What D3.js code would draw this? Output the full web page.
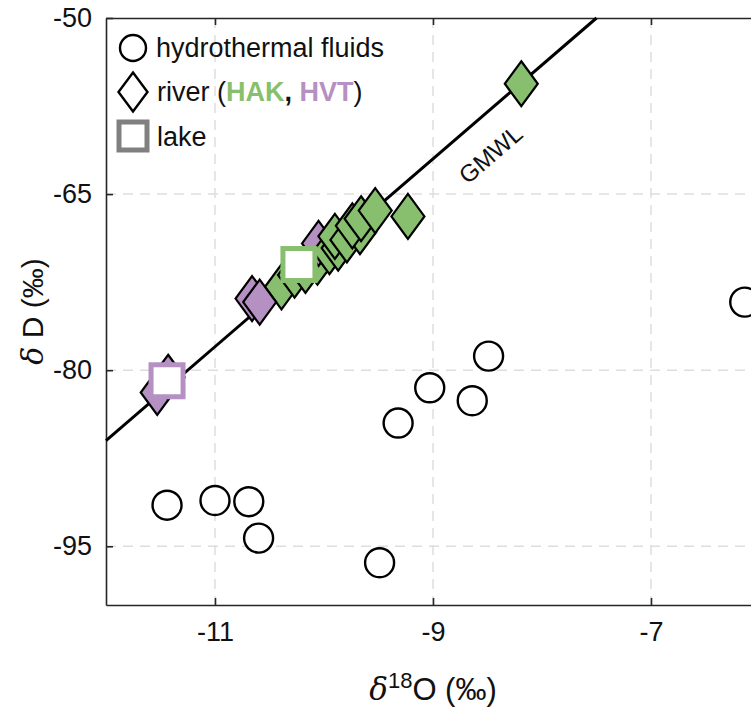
<!DOCTYPE html>
<html>
<head>
<meta charset="utf-8">
<script src="https://cdn.jsdelivr.net/npm/d3@7/dist/d3.min.js"></script>
<style>
  body { margin: 0; background: #fff; }
  svg { display: block; font-family: "Liberation Sans", Arial, sans-serif; }
</style>
</head>
<body>
<div id="isoGraph"></div>
<script>
// hydrothermal fluids
var hydroX = [-11.44, -11.00, -10.69, -10.60, -8.49, -9.03, -8.64, -9.32, -9.49, -6.14];
var hydroY = [-91.5, -91.1, -91.2, -94.3, -78.8, -81.5, -82.6, -84.5, -96.4, -74.2];

// river samples, drawn in this order
var riverX = [-10.39, -10.27, -10.17, -10.06, -10.66, -10.59, -10.05, -9.95, -9.87, -9.90, -9.79, -9.67, -9.74, -9.66, -9.53, -9.23, -8.19, -11.53, -11.43];
var riverY = [-72.9, -71.9, -71.5, -70.8, -73.9, -74.2, -69.2, -69.9, -69.6, -68.6, -68.9, -68.2, -67.7, -67.1, -66.4, -66.9, -55.6, -81.9, -80.6];
var riverSite = ['HAK', 'HAK', 'HAK', 'HAK', 'HVT', 'HVT', 'HVT', 'HAK', 'HAK', 'HAK', 'HAK', 'HAK', 'HAK', 'HAK', 'HAK', 'HAK', 'HAK', 'HVT', 'HVT'];

// lakes
var lakeX = [-10.23, -11.44];
var lakeY = [-71.0, -80.9];
var lakeSite = ['HAK', 'HVT'];

var xTicks = [-11, -9, -7];
var yTicks = [-95, -80, -65, -50];
var gmwlX = [-12, -7.5];   // GMWL: dD = 8 d18O + 10

var siteColor = { HAK: '#87bf6e', HVT: '#b590c2' };

function graphRegion() {
    var g = {};
    g.width = 751;
    g.height = 709;
    g.left = 106;
    g.right = 760;
    g.top = 18;
    g.bottom = 605;
    return g;
}

function setGraphScale() {
    var g = graphRegion();
    var scale = {};
    scale.x = d3.scaleLinear().domain([-12, -6]).range([g.left, g.right]);
    scale.y = d3.scaleLinear().domain([-100, -50]).range([g.bottom, g.top]);
    return scale;
}

function drawGrid(svg, scale) {
    var g = graphRegion();
    var grid = svg.append('g')
        .attr('stroke', '#dedede')
        .attr('stroke-width', 1.5)
        .attr('stroke-dasharray', '10,7');
    grid.selectAll('.gx').data(xTicks).enter().append('line')
        .attr('x1', function(d) { return scale.x(d); })
        .attr('x2', function(d) { return scale.x(d); })
        .attr('y1', g.top).attr('y2', g.bottom);
    grid.selectAll('.gy').data(yTicks.filter(function(d) { return d > -100 && d < -50; })).enter().append('line')
        .attr('y1', function(d) { return scale.y(d); })
        .attr('y2', function(d) { return scale.y(d); })
        .attr('x1', g.left).attr('x2', g.right);
}

function drawAxis(svg, scale) {
    var g = graphRegion();
    var fmt = function(d) { return String(d); };
    var xAxis = d3.axisBottom(scale.x).tickValues(xTicks).tickFormat(fmt)
        .tickSizeInner(-7).tickSizeOuter(0).tickPadding(17);
    var xTop = d3.axisTop(scale.x).tickValues(xTicks).tickFormat('')
        .tickSizeInner(-7).tickSizeOuter(0);
    var yAxis = d3.axisLeft(scale.y).tickValues(yTicks).tickFormat(fmt)
        .tickSizeInner(-7).tickSizeOuter(0).tickPadding(14);

    var ax = [
        svg.append('g').attr('transform', 'translate(0,' + g.bottom + ')').call(xAxis),
        svg.append('g').attr('transform', 'translate(0,' + g.top + ')').call(xTop),
        svg.append('g').attr('transform', 'translate(' + g.left + ',0)').call(yAxis)
    ];
    ax.forEach(function(a) {
        a.select('.domain').attr('stroke', '#262626').attr('stroke-width', 1.6);
        a.selectAll('.tick line').attr('stroke', '#262626').attr('stroke-width', 1.6);
        a.selectAll('.tick text').attr('fill', '#111').style('font-size', '27px')
            .style('font-family', '"Liberation Sans", Arial, sans-serif');
    });

    svg.append('text')
        .attr('x', 433).attr('y', 700)
        .attr('text-anchor', 'middle')
        .style('font-size', '31px').attr('fill', '#111')
        .html('<tspan font-family="DejaVu Serif" font-style="italic">δ</tspan><tspan dy="-12" font-size="22">18</tspan><tspan dy="12">O (‰)</tspan>');

    svg.append('text')
        .attr('transform', 'translate(43,' + ((g.top + g.bottom) / 2) + ') rotate(-90)')
        .attr('text-anchor', 'middle')
        .style('font-size', '30px').attr('fill', '#111')
        .html('<tspan font-family="DejaVu Serif" font-style="italic">δ</tspan> D (‰)');
}

function drawLine(svg, scale) {
    var line = d3.line()
        .x(function(d) { return scale.x(d); })
        .y(function(d) { return scale.y(8 * d + 10); });
    svg.append('path')
        .datum(gmwlX)
        .attr('d', line)
        .attr('stroke', '#000')
        .attr('stroke-width', 3)
        .attr('fill', 'none');

    var lx = scale.x(-8.55), ly = scale.y(8 * -8.55 + 10);
    var ang = Math.atan2(scale.y(8 * -8 + 10) - scale.y(8 * -9 + 10), scale.x(-8) - scale.x(-9)) * 180 / Math.PI;
    svg.append('text')
        .attr('transform', 'translate(' + (lx + 14) + ',' + (ly + 44) + ') rotate(' + ang + ')')
        .attr('text-anchor', 'middle')
        .style('font-size', '24px').attr('fill', '#111')
        .text('GMWL');
}

function diamondPath(hw, hh) {
    return 'M0,' + (-hh) + 'L' + hw + ',0L0,' + hh + 'L' + (-hw) + ',0Z';
}

function drawPoints(svg, scale) {
    svg.append('g').selectAll('ellipse')
        .data(d3.range(hydroX.length)).enter().append('ellipse')
        .attr('cx', function(i) { return scale.x(hydroX[i]); })
        .attr('cy', function(i) { return scale.y(hydroY[i]); })
        .attr('rx', 14.5).attr('ry', 14.5)
        .attr('fill', '#fff').attr('stroke', '#000').attr('stroke-width', 2.4);

    svg.append('g').selectAll('path')
        .data(d3.range(riverX.length)).enter().append('path')
        .attr('d', diamondPath(16.5, 22.5))
        .attr('transform', function(i) { return 'translate(' + scale.x(riverX[i]) + ',' + scale.y(riverY[i]) + ')'; })
        .attr('fill', function(i) { return siteColor[riverSite[i]]; })
        .attr('stroke', '#000').attr('stroke-width', 2.2).attr('stroke-linejoin', 'miter');

    svg.append('g').selectAll('rect')
        .data(d3.range(lakeX.length)).enter().append('rect')
        .attr('x', function(i) { return scale.x(lakeX[i]) - 16; })
        .attr('y', function(i) { return scale.y(lakeY[i]) - 16; })
        .attr('width', 32).attr('height', 32)
        .attr('fill', '#fff')
        .attr('stroke', function(i) { return siteColor[lakeSite[i]]; })
        .attr('stroke-width', 5);
}

function drawLegend(svg) {
    var lg = svg.append('g');
    lg.append('circle').attr('cx', 133).attr('cy', 48).attr('r', 13)
        .attr('fill', '#fff').attr('stroke', '#000').attr('stroke-width', 2.4);
    lg.append('path').attr('d', diamondPath(14.5, 19.5))
        .attr('transform', 'translate(133,92)')
        .attr('fill', '#fff').attr('stroke', '#000').attr('stroke-width', 2.4);
    lg.append('rect').attr('x', 119).attr('y', 122).attr('width', 28).attr('height', 28)
        .attr('fill', '#fff').attr('stroke', '#808080').attr('stroke-width', 5);

    var t = lg.append('g').style('font-size', '27px').attr('fill', '#111');
    t.append('text').attr('x', 156).attr('y', 57).text('hydrothermal fluids');
    t.append('text').attr('x', 157).attr('y', 101)
        .html('river (<tspan font-weight="bold" fill="' + siteColor.HAK + '">HAK</tspan><tspan font-weight="bold">, </tspan><tspan font-weight="bold" fill="' + siteColor.HVT + '">HVT</tspan>)');
    t.append('text').attr('x', 157).attr('y', 146).text('lake');
}

function drawGraph() {
    var g = graphRegion();
    var svg = d3.select('#isoGraph').append('svg')
        .attr('width', g.width)
        .attr('height', g.height);
    var scale = setGraphScale();
    drawGrid(svg, scale);
    drawAxis(svg, scale);
    drawLine(svg, scale);
    drawPoints(svg, scale);
    drawLegend(svg);
}

drawGraph();
</script>
</body>
</html>
